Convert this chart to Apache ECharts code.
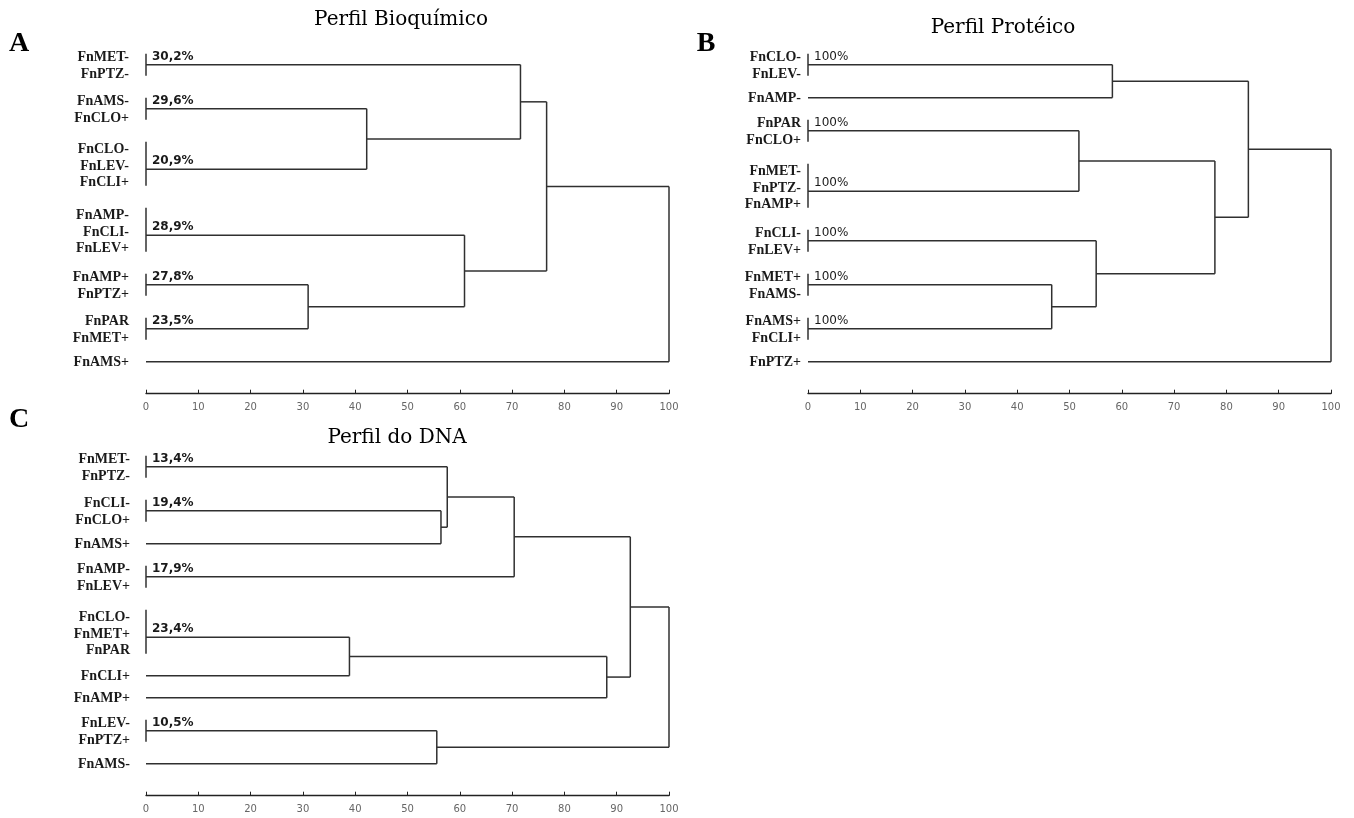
<!DOCTYPE html>
<html>
<head>
<meta charset="utf-8">
<script src="https://cdn.jsdelivr.net/npm/echarts@6/dist/echarts.min.js"></script>
<style>html,body{margin:0;padding:0;background:#fff}#chart{width:1354px;height:818px}</style>
</head>
<body>
<div id="chart"></div>
<script>
// ---------- DATA ----------
const panelTitles = ['Perfil Bioquímico', 'Perfil Protéico', 'Perfil do DNA'];
const panelLetters = ['A', 'B', 'C'];
const xTicks = [0, 100, 10]; // min, max, interval

// Panel A: leaf groups (top to bottom), similarity labels, merges [nodeA, nodeB, level]
const leafGroupsA = [['FnMET-','FnPTZ-'], ['FnAMS-','FnCLO+'], ['FnCLO-','FnLEV-','FnCLI+'], ['FnAMP-','FnCLI-','FnLEV+'], ['FnAMP+','FnPTZ+'], ['FnPAR','FnMET+'], ['FnAMS+']];
const leafPctA = ['30,2%','29,6%','20,9%','28,9%','27,8%','23,5%',''];
const mergesA = [[1,2,42.2],[0,7,71.6],[4,5,31.0],[3,9,60.9],[8,10,76.6],[11,6,100]];

// Panel B
const leafGroupsB = [['FnCLO-','FnLEV-'], ['FnAMP-'], ['FnPAR','FnCLO+'], ['FnMET-','FnPTZ-','FnAMP+'], ['FnCLI-','FnLEV+'], ['FnMET+','FnAMS-'], ['FnAMS+','FnCLI+'], ['FnPTZ+']];
const leafPctB = ['100%','','100%','100%','100%','100%','100%',''];
const mergesB = [[0,1,58.2],[2,3,51.8],[5,6,46.6],[4,10,55.1],[9,11,77.8],[8,12,84.2],[13,7,100]];

// Panel C
const leafGroupsC = [['FnMET-','FnPTZ-'], ['FnCLI-','FnCLO+'], ['FnAMS+'], ['FnAMP-','FnLEV+'], ['FnCLO-','FnMET+','FnPAR'], ['FnCLI+'], ['FnAMP+'], ['FnLEV-','FnPTZ+'], ['FnAMS-']];
const leafPctC = ['13,4%','19,4%','','17,9%','23,4%','','','10,5%',''];
const mergesC = [[1,2,56.4],[0,9,57.6],[10,3,70.4],[4,5,38.9],[12,6,88.1],[11,13,92.6],[7,8,55.6],[14,15,100]];

// ---------- BUILD ----------
function buildDendro(groups, pcts, merges) {
  const xNode = [], yNode = [], segs = [], names = [], pctPts = [];
  let cursor = 0;
  groups.forEach((g, i) => {
    const n = g.length;
    const c = cursor + n / 2;
    const yl = c + (n >= 3 ? 0.25 : 0);
    xNode.push(0); yNode.push(yl);
    if (n > 1) segs.push([0, c - 0.5 * (n - 1), 0, c + 0.5 * (n - 1)]);
    g.forEach((t, k) => names.push([0, c + (n >= 3 ? 0.12 : 0.05) + (k - (n - 1) / 2) * 0.75, t]));
    if (pcts[i]) pctPts.push([0, yl, pcts[i]]);
    cursor += n;
  });
  merges.forEach(([a, b, h]) => {
    segs.push([xNode[a], yNode[a], h, yNode[a]]);
    segs.push([xNode[b], yNode[b], h, yNode[b]]);
    segs.push([h, yNode[a], h, yNode[b]]);
    xNode.push(h); yNode.push((yNode[a] + yNode[b]) / 2);
  });
  return { segs, names, pctPts, total: cursor };
}

const panels = [
  buildDendro(leafGroupsA, leafPctA, mergesA),
  buildDendro(leafGroupsB, leafPctB, mergesB),
  buildDendro(leafGroupsC, leafPctC, mergesC)
];

const grids = [
  { left: 146, top: 42.7, width: 523, height: 330 },
  { left: 808, top: 42.7, width: 523, height: 330 },
  { left: 146, top: 444.7, width: 523, height: 330 }
];
const nameGap = [17, 7, 16];
const pctStyle = [
  'bold 12px "DejaVu Sans"',
  'normal 12px "DejaVu Sans"',
  'bold 12px "DejaVu Sans"'
];
const LINE = '#303030';

const xAxes = [], yAxes = [], series = [];
panels.forEach((p, i) => {
  xAxes.push({
    gridIndex: i, type: 'value', min: xTicks[0], max: xTicks[1], interval: xTicks[2],
    position: 'bottom', offset: 21,
    axisLine: { show: true, onZero: false, lineStyle: { color: '#222', width: 1.3 } },
    axisTick: { show: true, inside: true, length: 4, lineStyle: { color: '#222', width: 1 } },
    axisLabel: { color: '#666', fontSize: 10, fontFamily: 'DejaVu Sans', margin: 9 },
    splitLine: { show: false }
  });
  yAxes.push({ gridIndex: i, type: 'value', min: 0, max: p.total, inverse: true, show: false });
  series.push({
    type: 'custom', xAxisIndex: i, yAxisIndex: i, clip: false, silent: true,
    data: p.segs,
    renderItem: (params, api) => {
      const a = api.coord([api.value(0), api.value(1)]);
      const b = api.coord([api.value(2), api.value(3)]);
      return { type: 'line', shape: { x1: a[0], y1: a[1], x2: b[0], y2: b[1] },
        style: { stroke: LINE, lineWidth: 1.5 } };
    }
  });
  series.push({
    type: 'custom', xAxisIndex: i, yAxisIndex: i, clip: false, silent: true,
    data: p.names,
    renderItem: (params, api) => {
      const a = api.coord([api.value(0), api.value(1)]);
      return { type: 'text', x: a[0] - nameGap[i], y: a[1],
        style: { text: p.names[params.dataIndex][2], fill: '#1a1a1a',
          font: 'bold 14px "Liberation Serif"', align: 'right', verticalAlign: 'middle' } };
    }
  });
  series.push({
    type: 'custom', xAxisIndex: i, yAxisIndex: i, clip: false, silent: true,
    data: p.pctPts,
    renderItem: (params, api) => {
      const a = api.coord([api.value(0), api.value(1)]);
      return { type: 'text', x: a[0] + 6, y: a[1] - 2,
        style: { text: p.pctPts[params.dataIndex][2], fill: '#1a1a1a',
          font: pctStyle[i], align: 'left', verticalAlign: 'bottom' } };
    }
  });
});

const titlePos = [[401, 20], [1003, 28], [397, 438]];
const letterPos = [[19, 44], [706, 44], [19, 420]];
const graphics = [];
panelTitles.forEach((t, i) => {
  graphics.push({ type: 'text', x: titlePos[i][0], y: titlePos[i][1],
    style: { text: t, fill: '#000', font: 'normal 20px "DejaVu Serif"', align: 'center', verticalAlign: 'middle' } });
  graphics.push({ type: 'text', x: letterPos[i][0], y: letterPos[i][1],
    style: { text: panelLetters[i], fill: '#000', font: 'bold 28px "Liberation Serif"', align: 'center', verticalAlign: 'middle' } });
});

const chart = echarts.init(document.getElementById('chart'), null, { renderer: 'canvas' });
chart.setOption({
  animation: false,
  backgroundColor: '#fff',
  grid: grids,
  xAxis: xAxes,
  yAxis: yAxes,
  series: series,
  graphic: graphics
});
</script>
</body>
</html>
